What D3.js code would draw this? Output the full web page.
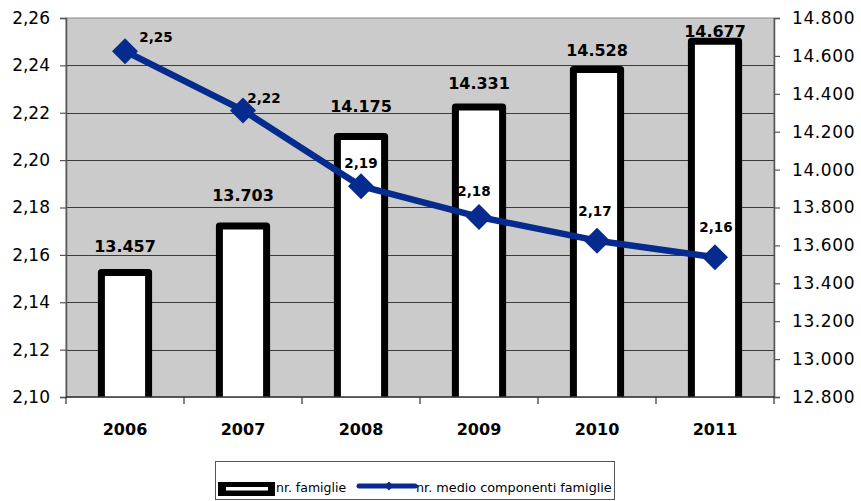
<!DOCTYPE html>
<html>
<head>
<meta charset="utf-8">
<script src="https://cdn.jsdelivr.net/npm/d3@7"></script>
<style>
  html, body { margin: 0; padding: 0; background: #ffffff; }
  svg { display: block; font-family: "DejaVu Sans", "Lato", sans-serif; }
</style>
</head>
<body>
<svg id="chart" width="861" height="501"></svg>
<script>
// ---- data ----
const years = ["2006", "2007", "2008", "2009", "2010", "2011"];
const famiglie = [13457, 13703, 14175, 14331, 14528, 14677];
const componenti = [2.246, 2.221, 2.189, 2.176, 2.166, 2.159];
const leftTicks = [2.10, 2.12, 2.14, 2.16, 2.18, 2.20, 2.22, 2.24, 2.26];
const rightTicks = [12800, 13000, 13200, 13400, 13600, 13800, 14000, 14200, 14400, 14600, 14800];
const seriesNames = ["nr. famiglie", "nr. medio componenti famiglie"];

// ---- layout (not data) ----
const plot = { left: 66, right: 774, top: 18, bottom: 397 };
const barLabelDy = [-20, -25, -24, -18, -14, -4];
const lineLabelOff = [[31, -9], [21, -7], [0, -18], [-5, -21], [-2, -25], [1, -25]];
const blue = "#062b8e";

const loc = d3.formatLocale({ decimal: ",", thousands: ".", grouping: [3], currency: ["€", ""] });
const fmtL = loc.format(".2f");
const fmtR = loc.format(",d");

const svg = d3.select("#chart");

const x = d3.scaleBand().domain(years).range([plot.left, plot.right]).paddingInner(0.6).paddingOuter(0.3);
const step = x.step();
const yL = d3.scaleLinear().domain([2.10, 2.26]).range([plot.bottom, plot.top]);
const yR = d3.scaleLinear().domain([12800, 14800]).range([plot.bottom, plot.top]);

// plot area background
svg.append("rect")
  .attr("x", plot.left).attr("y", plot.top)
  .attr("width", plot.right - plot.left).attr("height", plot.bottom - plot.top)
  .attr("fill", "#cbcbcb").attr("stroke", "#8a8a8a").attr("stroke-width", 1);

// gridlines
svg.append("g").selectAll("line")
  .data(leftTicks.slice(1, -1))
  .join("line")
  .attr("x1", plot.left).attr("x2", plot.right)
  .attr("y1", d => Math.round(yL(d)) + 0.5).attr("y2", d => Math.round(yL(d)) + 0.5)
  .attr("stroke", "#3a3a3a").attr("stroke-width", 1);

// clip
svg.append("clipPath").attr("id", "clip")
  .append("rect").attr("x", plot.left).attr("y", 0)
  .attr("width", plot.right - plot.left).attr("height", plot.bottom);

// bars
svg.append("g").attr("clip-path", "url(#clip)")
  .selectAll("rect")
  .data(years)
  .join("rect")
  .attr("x", d => x(d))
  .attr("y", (d, i) => yR(famiglie[i]))
  .attr("width", x.bandwidth())
  .attr("height", (d, i) => plot.bottom + 4 - yR(famiglie[i]))
  .attr("fill", "#ffffff")
  .attr("stroke", "#000000")
  .attr("stroke-width", 7)
  .attr("stroke-linejoin", "round");

// bar labels
svg.append("g").selectAll("text")
  .data(years)
  .join("text")
  .attr("x", d => x(d) + x.bandwidth() / 2)
  .attr("y", (d, i) => yR(famiglie[i]) + barLabelDy[i])
  .attr("text-anchor", "middle")
  .attr("font-size", 16)
  .attr("font-weight", "bold")
  .attr("fill", "#000")
  .text((d, i) => fmtR(famiglie[i]));

// axes
const axL = svg.append("g")
  .attr("transform", `translate(${plot.left},0)`)
  .call(d3.axisLeft(yL).tickValues(leftTicks).tickSize(6).tickPadding(10).tickFormat(fmtL));
const axR = svg.append("g")
  .attr("transform", `translate(${plot.right},0)`)
  .call(d3.axisRight(yR).tickValues(rightTicks).tickSize(6).tickPadding(12).tickFormat(fmtR));
[axL, axR].forEach(a => {
  a.select(".domain").attr("stroke", "#555").attr("stroke-width", 1.5);
  a.selectAll(".tick line").attr("stroke", "#555").attr("stroke-width", 1.2);
  a.selectAll(".tick text").attr("font-size", 17).attr("fill", "#000")
    .attr("font-family", "'DejaVu Sans', sans-serif");
});
axR.selectAll(".tick text").attr("letter-spacing", 0.6);

// x axis line + boundary ticks
svg.append("line")
  .attr("x1", plot.left).attr("x2", plot.right)
  .attr("y1", plot.bottom).attr("y2", plot.bottom)
  .attr("stroke", "#333").attr("stroke-width", 1.5);
svg.append("g").selectAll("line")
  .data(years.concat(["end"]))
  .join("line")
  .attr("x1", (d, i) => plot.left + i * step).attr("x2", (d, i) => plot.left + i * step)
  .attr("y1", plot.bottom).attr("y2", plot.bottom + 7)
  .attr("stroke", "#333").attr("stroke-width", 1.2);
svg.append("g").selectAll("text")
  .data(years)
  .join("text")
  .attr("x", d => x(d) + x.bandwidth() / 2)
  .attr("y", 435)
  .attr("text-anchor", "middle")
  .attr("font-size", 16)
  .attr("font-weight", "bold")
  .text(d => d);

// line series
const line = d3.line()
  .x((d, i) => x(years[i]) + x.bandwidth() / 2)
  .y(d => yL(d));
svg.append("path")
  .datum(componenti)
  .attr("d", line)
  .attr("fill", "none")
  .attr("stroke", blue)
  .attr("stroke-width", 6.5)
  .attr("stroke-linejoin", "round");

const diamond = r => `M0,${-r}L${r},0L0,${r}L${-r},0Z`;
svg.append("g").selectAll("path")
  .data(componenti)
  .join("path")
  .attr("transform", (d, i) => `translate(${x(years[i]) + x.bandwidth() / 2},${yL(d)})`)
  .attr("d", diamond(13))
  .attr("fill", blue);

svg.append("g").selectAll("text")
  .data(componenti)
  .join("text")
  .attr("x", (d, i) => x(years[i]) + x.bandwidth() / 2 + lineLabelOff[i][0])
  .attr("y", (d, i) => yL(d) + lineLabelOff[i][1])
  .attr("text-anchor", "middle")
  .attr("font-size", 13.5)
  .attr("font-weight", "bold")
  .attr("fill", "#000")
  .text(d => fmtL(d));

// legend
const lg = svg.append("g");
lg.append("rect")
  .attr("x", 215.5).attr("y", 461.5).attr("width", 399).attr("height", 38)
  .attr("fill", "#fff").attr("stroke", "#555").attr("stroke-width", 1);
lg.append("rect").attr("x", 218).attr("y", 482).attr("width", 57).attr("height", 14).attr("fill", "#000");
lg.append("rect").attr("x", 226).attr("y", 487).attr("width", 42).attr("height", 3.5).attr("fill", "#fff");
lg.append("text").attr("x", 276).attr("y", 492).attr("font-size", 12.5).text(seriesNames[0]);
lg.append("line").attr("x1", 359).attr("x2", 415).attr("y1", 486).attr("y2", 486)
  .attr("stroke", blue).attr("stroke-width", 5).attr("stroke-linecap", "round");
lg.append("path").attr("transform", "translate(389,486)").attr("d", diamond(4.5)).attr("fill", blue);
lg.append("text").attr("x", 416).attr("y", 492).attr("font-size", 12.8).text(seriesNames[1]);
</script>
</body>
</html>
